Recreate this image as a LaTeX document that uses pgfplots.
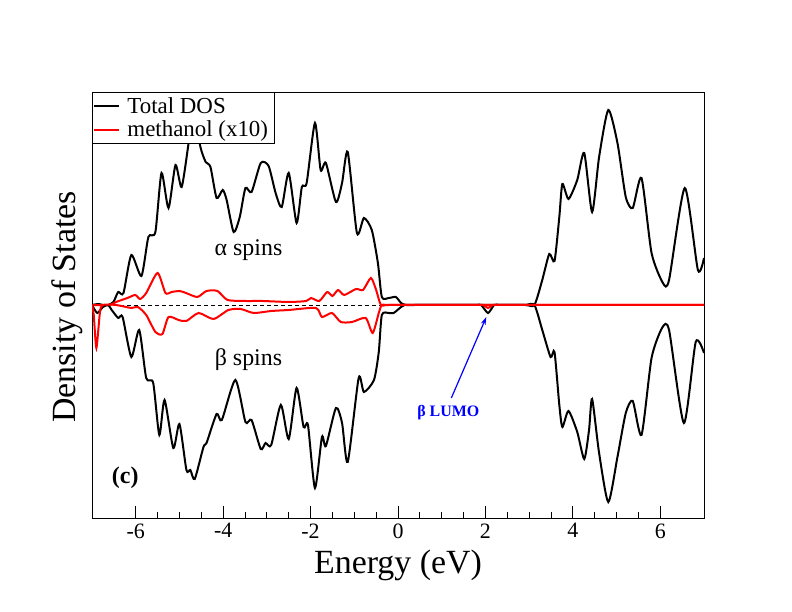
\documentclass[border=0pt]{standalone}
\usepackage{pgfplots}
\pgfplotsset{compat=1.18}
\usetikzlibrary{arrows.meta}
\usepackage{fontspec}
\setmainfont{Liberation Serif}
\begin{document}
\begin{tikzpicture}[x=1bp,y=1bp]
\path[use as bounding box] (0,0) rectangle (792,612);
\begin{axis}[
  at={(92bp,94bp)}, anchor=south west,
  scale only axis, width=612bp, height=426bp,
  xmin=-7, xmax=7, ymin=-213, ymax=213,
  ytick=\empty,
  xtick={-6,-4,...,6},
  minor x tick num=3,
  tick align=inside,
  xtick pos=bottom,
  major tick length=12bp, minor tick length=6bp,
  axis line style={line width=0.9bp},
  every tick/.style={line width=0.9bp, black},
  /pgf/number format/assume math mode=true,
  xticklabel style={font=\fontsize{22}{24}\selectfont, yshift=-2bp},
  legend style={at={(0,1)}, anchor=north west, draw=black, line width=0.9bp,
    font=\fontsize{23}{25}\selectfont, inner xsep=1bp, inner ysep=2bp,
    nodes={inner xsep=5bp, inner ysep=3bp},
    column sep=2bp, row sep=0bp,
    legend cell align=left},
  legend image code/.code={\draw[#1, line width=2bp] (0bp,0bp) -- (25bp,0bp);},
]
\addplot[black, dashed, line width=0.7bp, dash pattern=on 4bp off 3bp, forget plot] coordinates {(-7,0) (7,0)};
\addplot[black, line width=2bp, smooth, tension=0.4] coordinates {
(-7,0) (-6.85,1) (-6.75,0) (-6.63,0) (-6.51,3) (-6.40,13) (-6.28,12) (-6.10,50) (-5.87,29) (-5.71,68) (-5.55,73) (-5.41,132) (-5.25,97) (-5.09,140) (-4.95,118) (-4.79,162) (-4.68,195) (-4.52,158) (-4.40,143) (-4.29,138) (-4.15,107) (-4.01,115) (-3.92,105) (-3.76,73) (-3.62,88) (-3.49,117) (-3.35,113) (-3.14,142) (-2.96,139) (-2.80,112) (-2.66,98) (-2.50,132) (-2.32,82) (-2.20,118) (-2.09,122) (-1.90,182) (-1.77,135) (-1.65,142) (-1.42,103) (-1.28,122) (-1.15,153) (-0.94,72) (-0.78,87) (-0.60,75) (-0.46,42) (-0.37,8) (-0.21,7) (-0.05,8) (0.07,2) (0.18,0) (0.4,0) (1.0,0) (2.0,0) (2.9,0) (3.12,0) (3.30,25) (3.46,51) (3.58,44) (3.69,88) (3.76,121) (3.90,106) (4.10,125) (4.26,152) (4.44,93) (4.60,148) (4.81,195) (5.02,162) (5.21,108) (5.37,97) (5.57,127) (5.80,52) (6.06,22) (6.20,25) (6.56,117) (6.86,35) (7.0,47)
};
\addlegendentry{Total DOS}
\addplot[red, line width=2bp, smooth, tension=0.4] coordinates {
(-7,0) (-6.60,0) (-6.45,3) (-6.19,7) (-6.01,10) (-5.90,6) (-5.76,12) (-5.50,32) (-5.32,12) (-5.18,13) (-5.00,14) (-4.85,12) (-4.59,8) (-4.38,14) (-4.13,14) (-3.90,5) (-3.50,4) (-3.10,4) (-2.50,3) (-2.10,4) (-1.99,7) (-1.80,4) (-1.62,13) (-1.50,9) (-1.37,15) (-1.23,10) (-0.96,16) (-0.80,15) (-0.62,27) (-0.50,15) (-0.39,0) (-0.2,0) (1.0,0) (3.0,0) (5.0,0) (7,0)
};
\addlegendentry{methanol (x10)}
\addplot[black, line width=2bp, smooth, tension=0.4, forget plot] coordinates {
(-7,0) (-6.88,-8) (-6.75,-2) (-6.63,0) (-6.55,-5) (-6.40,-13) (-6.30,-12) (-6.10,-52) (-5.92,-25) (-5.76,-73) (-5.60,-78) (-5.46,-130) (-5.34,-95) (-5.14,-143) (-5.00,-119) (-4.84,-165) (-4.75,-165) (-4.65,-174) (-4.45,-142) (-4.38,-138) (-4.15,-109) (-4.03,-115) (-3.72,-75) (-3.49,-117) (-3.35,-115) (-3.14,-144) (-3.03,-138) (-2.90,-140) (-2.68,-100) (-2.50,-134) (-2.32,-83) (-2.16,-122) (-2.06,-120) (-1.90,-183) (-1.74,-132) (-1.65,-141) (-1.42,-103) (-1.28,-118) (-1.15,-157) (-0.90,-73) (-0.78,-87) (-0.55,-75) (-0.44,-47) (-0.37,-10) (-0.21,-8) (-0.10,-8) (0.07,-2) (0.15,0) (0.4,0) (1.0,0) (1.75,0) (1.90,0) (2.06,-8) (2.20,0) (2.35,0) (2.9,0) (3.12,0) (3.30,-25) (3.49,-52) (3.58,-47) (3.69,-100) (3.76,-122) (3.90,-106) (4.10,-127) (4.26,-154) (4.37,-125) (4.44,-94) (4.60,-148) (4.81,-197) (5.02,-152) (5.21,-108) (5.37,-96) (5.57,-130) (5.80,-53) (6.04,-23) (6.20,-25) (6.54,-118) (6.81,-37) (7.0,-48)
};
\addplot[red, line width=2bp, smooth, tension=0.4, forget plot] coordinates {
(-7,0) (-6.96,-10) (-6.90,-43) (-6.82,-8) (-6.76,0) (-6.45,0) (-6.10,-3) (-5.95,-2) (-5.76,-10) (-5.55,-27) (-5.39,-29) (-5.25,-12) (-5.02,-15) (-4.84,-16) (-4.56,-8) (-4.22,-14) (-3.88,-5) (-3.60,-4) (-3.30,-8) (-2.90,-6) (-2.50,-5) (-1.88,-3) (-1.74,-12) (-1.51,-8) (-1.31,-17) (-1.05,-17) (-0.74,-13) (-0.58,-28) (-0.44,-8) (-0.37,0) (-0.2,0) (1.0,0) (1.85,0) (1.95,0) (2.06,-3) (2.17,0) (2.3,0) (3.0,0) (5.0,0) (7,0)
};
\node[font=\fontsize{24}{26}\selectfont] at (axis cs:-3.42,55) {α spins};
\node[font=\fontsize{24}{26}\selectfont] at (axis cs:-3.42,-55) {β spins};
\node[font=\fontsize{24}{26}\selectfont\bfseries] at (axis cs:-6.24,-173) {(c)};
\node[font=\fontsize{16}{18}\selectfont\bfseries, text=blue] at (axis cs:1.15,-108) {β LUMO};
\draw[-{Stealth[length=8bp,width=5bp]}, blue, line width=1.2bp] (axis cs:1.22,-93) -- (axis cs:2.02,-12);
\end{axis}
\node[rotate=90, font=\fontsize{34}{36}\selectfont] at (67,305) {Density of States};
\node[font=\fontsize{34}{36}\selectfont] at (398,47) {Energy (eV)};
\end{tikzpicture}
\end{document}
